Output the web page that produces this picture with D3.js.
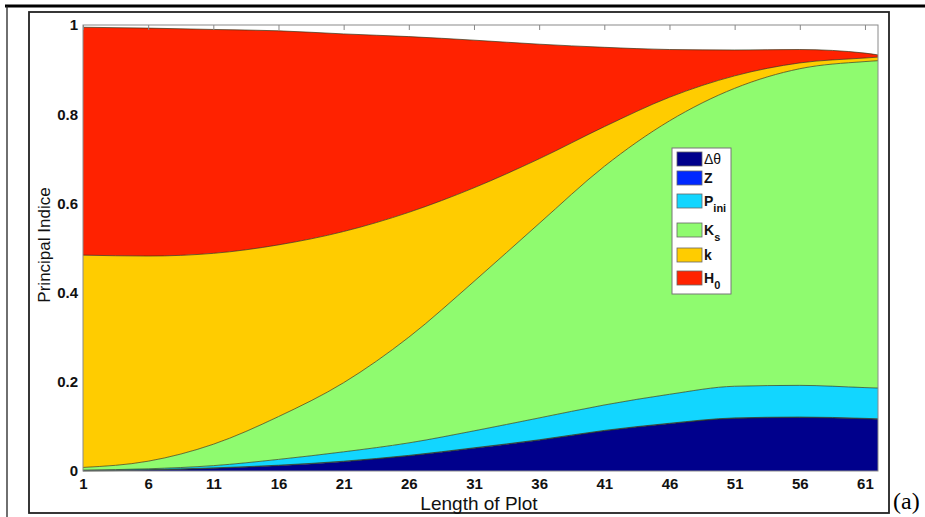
<!DOCTYPE html>
<html>
<head>
<meta charset="utf-8">
<script src="https://cdn.jsdelivr.net/npm/d3@7"></script>
<style>
  html, body { margin: 0; padding: 0; background: #fff; }
  svg { display: block; font-family: "Liberation Sans", Arial, sans-serif; }
</style>
</head>
<body>
<svg id="chart" width="925" height="517"></svg>
<script>
// ---- data ----
const plotLength = [1, 6, 11, 16, 21, 26, 31, 36, 41, 46, 51, 56, 61, 62];
const dTheta = [0.000, 0.002, 0.006, 0.012, 0.021, 0.034, 0.051, 0.069, 0.090, 0.106, 0.118, 0.120, 0.117, 0.116];
const zVals  = [0.001, 0.001, 0.001, 0.001, 0.001, 0.001, 0.001, 0.001, 0.001, 0.001, 0.001, 0.001, 0.001, 0.001];
const pIni   = [0.001, 0.002, 0.005, 0.013, 0.021, 0.028, 0.038, 0.049, 0.057, 0.065, 0.071, 0.071, 0.069, 0.069];
const kS     = [0.006, 0.017, 0.048, 0.096, 0.155, 0.237, 0.335, 0.436, 0.535, 0.613, 0.668, 0.710, 0.731, 0.734];
const kVals  = [0.476, 0.460, 0.428, 0.385, 0.339, 0.280, 0.210, 0.145, 0.089, 0.053, 0.028, 0.013, 0.008, 0.008];
const h0     = [0.511, 0.511, 0.502, 0.480, 0.443, 0.394, 0.331, 0.257, 0.178, 0.107, 0.058, 0.030, 0.011, 0.005];
const seriesKeys = ["dTheta", "Z", "Pini", "Ks", "k", "H0"];
const seriesColors = ["#00008c", "#0028ff", "#12d6ff", "#8ffb6f", "#ffcc00", "#ff2200"];
const xTicks = [1, 6, 11, 16, 21, 26, 31, 36, 41, 46, 51, 56, 61];
const yTicks = [0, 0.2, 0.4, 0.6, 0.8, 1];
const yTickLabels = ["0", "0.2", "0.4", "0.6", "0.8", "1"];

const table = plotLength.map((x, i) => ({
  x, dTheta: dTheta[i], Z: zVals[i], Pini: pIni[i], Ks: kS[i], k: kVals[i], H0: h0[i]
}));

const svg = d3.select("#chart");

// outer frame
svg.append("line").attr("x1", 5).attr("x2", 925).attr("y1", 6).attr("y2", 6)
  .attr("stroke", "#000").attr("stroke-width", 3);
svg.append("line").attr("x1", 7).attr("x2", 7).attr("y1", 6).attr("y2", 517)
  .attr("stroke", "#222").attr("stroke-width", 1.3);
// inner figure frame
svg.append("rect").attr("x", 29).attr("y", 12).attr("width", 860).attr("height", 501)
  .attr("fill", "none").attr("stroke", "#222").attr("stroke-width", 1.8);

const x = d3.scaleLinear().domain([1, 62]).range([83, 878]);
const y = d3.scaleLinear().domain([0, 1]).range([471, 25]);

const stack = d3.stack().keys(seriesKeys);
const layers = stack(table);

const area = d3.area()
  .x(d => x(d.data.x))
  .y0(d => y(d[0]))
  .y1(d => y(d[1]))
  .curve(d3.curveMonotoneX);
const topLine = d3.line()
  .x(d => x(d.data.x))
  .y(d => y(d[1]))
  .curve(d3.curveMonotoneX);

const g = svg.append("g");
g.selectAll("path.area").data(layers).join("path")
  .attr("class", "area")
  .attr("d", area)
  .attr("fill", (d, i) => seriesColors[i]);
g.selectAll("path.edge").data(layers).join("path")
  .attr("class", "edge")
  .attr("d", topLine)
  .attr("fill", "none")
  .attr("stroke", "#2b3416")
  .attr("stroke-opacity", 0.75)
  .attr("stroke-width", 0.9);

// plot box
svg.append("rect").attr("x", 83).attr("y", 25).attr("width", 795).attr("height", 446)
  .attr("fill", "none").attr("stroke", "#8a8a8a").attr("stroke-width", 1);

// top ticks (inward)
svg.append("g").attr("transform", "translate(0,25)")
  .call(d3.axisTop(x).tickValues(xTicks).tickSize(-5).tickFormat(""))
  .call(a => a.select(".domain").remove())
  .call(a => a.selectAll("line").attr("stroke", "#888"));

// bottom axis labels
const xAxis = svg.append("g").attr("transform", "translate(0,471)")
  .call(d3.axisBottom(x).tickValues(xTicks).tickSize(0).tickPadding(0).tickFormat(d3.format("d")));
xAxis.select(".domain").remove();
xAxis.selectAll("text")
  .attr("y", 18).attr("dy", 0)
  .attr("font-family", "'Liberation Sans', Arial, sans-serif")
  .attr("font-size", 15).attr("font-weight", "bold").attr("fill", "#111");

// left axis labels
const yAxis = svg.append("g").attr("transform", "translate(83,0)")
  .call(d3.axisLeft(y).tickValues(yTicks).tickSize(0).tickPadding(5)
    .tickFormat((d, i) => yTickLabels[i]));
yAxis.select(".domain").remove();
yAxis.selectAll("text")
  .attr("font-family", "'Liberation Sans', Arial, sans-serif")
  .attr("font-size", 15).attr("font-weight", "bold").attr("fill", "#111");

// axis titles
svg.append("text").attr("x", 479).attr("y", 510).attr("text-anchor", "middle")
  .attr("font-size", 19).attr("fill", "#111").text("Length of Plot");
svg.append("text").attr("transform", "translate(50,245) rotate(-90)")
  .attr("text-anchor", "middle").attr("font-size", 17).attr("fill", "#111")
  .text("Principal Indice");

// (a)
svg.append("text").attr("x", 893).attr("y", 509)
  .attr("font-family", "'Liberation Serif', 'Times New Roman', serif")
  .attr("font-size", 24).attr("fill", "#000").text("(a)");

// legend
const legendItems = [
  { main: "Δθ", sub: "", cy: 159 },
  { main: "Z", sub: "", cy: 178 },
  { main: "P", sub: "ini", cy: 201 },
  { main: "K", sub: "s", cy: 230 },
  { main: "k", sub: "", cy: 255 },
  { main: "H", sub: "0", cy: 278 }
];
const lg = svg.append("g");
lg.append("rect").attr("x", 672).attr("y", 148).attr("width", 59).attr("height", 146)
  .attr("fill", "#fff").attr("stroke", "#777").attr("stroke-width", 1);
legendItems.forEach((it, i) => {
  lg.append("rect").attr("x", 677).attr("y", it.cy - 7).attr("width", 25).attr("height", 14)
    .attr("fill", seriesColors[i]).attr("stroke", "#666").attr("stroke-width", 0.8);
  const t = lg.append("text").attr("x", 704).attr("y", it.cy + 5)
    .attr("font-size", 14).attr("font-weight", i === 0 ? "normal" : "bold").attr("fill", "#111");
  t.append("tspan").text(it.main);
  if (it.sub) {
    t.append("tspan").attr("dy", 6).attr("font-size", 11).text(it.sub);
  }
});
</script>
</body>
</html>
